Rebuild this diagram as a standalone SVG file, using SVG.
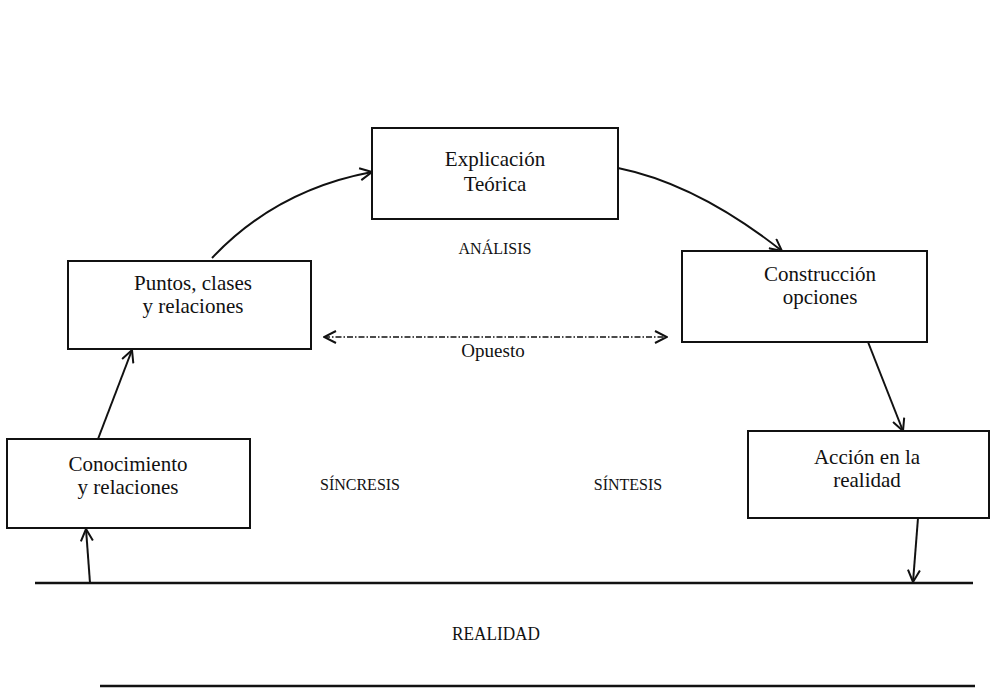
<svg xmlns="http://www.w3.org/2000/svg" width="991" height="695" viewBox="0 0 991 695">
<style>
.box{fill:#fff;stroke:#111;stroke-width:2}
.t{font-family:"Liberation Serif","Times New Roman",serif;font-size:21px;fill:#111;text-anchor:middle}
.lab{font-family:"Liberation Serif","Times New Roman",serif;font-size:16px;fill:#111;text-anchor:middle}
.c{fill:none;stroke:#111;stroke-width:2}
</style>
<defs>
<marker id="ah" markerWidth="14" markerHeight="14" refX="13" refY="7" orient="auto" markerUnits="userSpaceOnUse">
<path d="M1,1 L13,7 L1,13" fill="none" stroke="#111" stroke-width="2"/>
</marker>
<marker id="ahs" markerWidth="14" markerHeight="14" refX="1" refY="7" orient="auto" markerUnits="userSpaceOnUse">
<path d="M13,1 L1,7 L13,13" fill="none" stroke="#111" stroke-width="2"/>
</marker>
</defs>
<rect width="991" height="695" fill="#fff"/>
<g id="connectors">
<path class="c" d="M98,439 L132,350" marker-end="url(#ah)"/>
<path class="c" d="M212,258 Q276,190 372,172" marker-end="url(#ah)"/>
<path class="c" d="M618,168 Q697,184 782,251" marker-end="url(#ah)"/>
<path class="c" d="M868,342 L903,431" marker-end="url(#ah)"/>
<path class="c" d="M918,518 L913,582" marker-end="url(#ah)"/>
<path class="c" d="M90,583 L86,529" marker-end="url(#ah)"/>
<path fill="none" stroke="#111" stroke-width="1.6" stroke-dasharray="6 2 1.5 2" d="M324,337 L667,337" marker-start="url(#ahs)" marker-end="url(#ah)"/>
<line x1="35" y1="583" x2="973" y2="583" stroke="#111" stroke-width="2.5"/>
<line x1="100" y1="686" x2="975" y2="686" stroke="#111" stroke-width="2.5"/>
</g>
<g id="explicacion">
<rect class="box" x="372" y="128" width="246" height="91"/>
<text class="t" x="495" y="166">Explicación</text>
<text class="t" x="495" y="191">Teórica</text>
</g>
<g id="puntos">
<rect class="box" x="68" y="261" width="243" height="88"/>
<text class="t" x="193" y="290">Puntos, clases</text>
<text class="t" x="193" y="313">y relaciones</text>
</g>
<g id="construccion">
<rect class="box" x="682" y="251" width="245" height="91"/>
<text class="t" x="820" y="281">Construcción</text>
<text class="t" x="820" y="304">opciones</text>
</g>
<g id="conocimiento">
<rect class="box" x="7" y="439" width="243" height="89"/>
<text class="t" x="128" y="471">Conocimiento</text>
<text class="t" x="128" y="494">y relaciones</text>
</g>
<g id="accion">
<rect class="box" x="748" y="431" width="241" height="87"/>
<text class="t" x="867" y="464">Acción en la</text>
<text class="t" x="867" y="487">realidad</text>
</g>
<g id="labels">
<text class="lab" x="495" y="254">ANÁLISIS</text>
<text class="lab" x="493" y="357" style="font-size:19px">Opuesto</text>
<text class="lab" x="360" y="490">SÍNCRESIS</text>
<text class="lab" x="628" y="490">SÍNTESIS</text>
<text class="lab" x="496" y="640" style="font-size:18px" textLength="88" lengthAdjust="spacingAndGlyphs">REALIDAD</text>
</g>
</svg>
